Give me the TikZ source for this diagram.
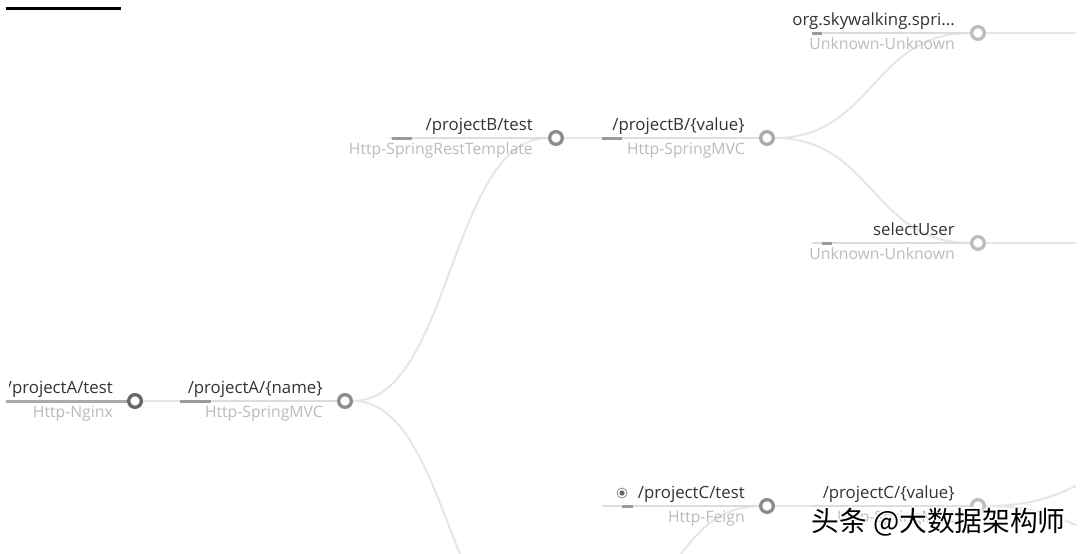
\documentclass[tikz,border=0pt]{standalone}
\usepackage{fontspec}
\setmainfont{Open Sans}
\newfontfamily\cjkfont{Noto Sans CJK SC}
\usetikzlibrary{backgrounds}
\definecolor{titlec}{HTML}{333333}
\definecolor{subc}{HTML}{BBBBBB}
\definecolor{linkc}{HTML}{E6E6E6}
\definecolor{barc}{HTML}{DDDDDD}
\definecolor{darkc}{HTML}{9A9A9A}
\definecolor{ringA}{HTML}{666666}
\definecolor{ringB}{HTML}{8C8C8C}
\definecolor{ringC}{HTML}{ABABAB}
\definecolor{ringD}{HTML}{BDBDBD}
\begin{document}
\begin{tikzpicture}[x=0.75pt,y=-0.75pt,
  ring/.style={circle,draw=#1,fill=white,line width=2.5pt,minimum size=9.5pt,inner sep=0pt},
  ttl/.style={anchor=base east,inner sep=0pt,text=titlec,font=\fontsize{12.6}{14}\selectfont},
  sub/.style={anchor=base east,inner sep=0pt,text=subc,font=\fontsize{11.8}{14}\selectfont},
  link/.style={draw=linkc,line width=1.5pt},
  barlight/.style={draw=barc,line width=1.5pt},
  bardark/.style={draw=darkc,line width=2.25pt},
  wm/.style={font=\cjkfont\fontsize{20.8}{24}\selectfont,inner sep=0pt}]
\useasboundingbox (0,0) rectangle (1080,553);
\clip (9,0) rectangle (1076,553);

% span circles
\node[ring=ringA] (A1) at (135,401) {};
\node[ring=ringB] (A2) at (345,401) {};
\node[ring=ringB] (B1) at (556,138) {};
\node[ring=ringC] (B2) at (767,138) {};
\node[ring=ringD] (C1) at (978,33) {};
\node[ring=ringD] (C2) at (978,243) {};
\node[ring=ringB] (D1) at (767,506) {};
\node[ring=ringD] (D2) at (978,506) {};
\coordinate (X) at (556,664);
\coordinate (C1r) at (1189,33);
\coordinate (C2r) at (1189,243);
\coordinate (E1) at (1189,458);
\coordinate (E2) at (1189,552);

% titles
\node[ttl] (A1t) at (113,393) {/projectA/test};
\node[sub] (A1s) at (113,417) {Http-Nginx};
\node[ttl] (A2t) at (323,393) {/projectA/\{name\}};
\node[sub] (A2s) at (323,417) {Http-SpringMVC};
\node[ttl] (B1t) at (533,130) {/projectB/test};
\node[sub] (B1s) at (533,154) {Http-SpringRestTemplate};
\node[ttl] (B2t) at (745,130) {/projectB/\{value\}};
\node[sub] (B2s) at (745,154) {Http-SpringMVC};
\node[ttl] (C1t) at (955,25) {org.skywalking.spri...};
\node[sub] (C1s) at (955,49) {Unknown-Unknown};
\node[ttl] (C2t) at (955,235) {selectUser};
\node[sub] (C2s) at (955,259) {Unknown-Unknown};
\node[ttl] (D1t) at (745,498) {/projectC/test};
\node[sub] (D1s) at (745,522) {Http-Feign};
\node[ttl] (D2t) at (955,498) {/projectC/\{value\}};
\node[sub] (D2s) at (955,522) {Http-SpringMVC};

% radio icon
\node[circle,draw=ringB,line width=0.6pt,minimum size=7.5pt,inner sep=0pt] (rad) at (622,493) {};
\fill[ringA] (rad.center) circle (2pt);

% watermark
\foreach \dx/\dy in {-1.5/0,1.5/0,0/-1.5,0/1.5,-1/-1,1/1,-1/1,1/-1}
  \node[wm,text=white] at (938.5+\dx,522+\dy) {头条 @大数据架构师};
\node[wm,text=black] (wmk) at (938.5,522) {头条 @大数据架构师};

\begin{pgfonlayer}{background}
  \fill[white] (0,0) rectangle (1080,553);
  \clip (0,0) rectangle (1076,553);
  % top-left bar
  \draw[black,line width=2.25pt] (6,8) -- (121,8);
  % links
  \draw[link] (A1) -- (A2);
  \draw[link] (A2) .. controls +(105.5,0) and +(-105.5,0) .. (B1);
  \draw[link] (A2) .. controls +(105.5,0) and +(-105.5,0) .. (X);
  \draw[link] (B1) -- (B2);
  \draw[link] (B2) .. controls +(105.5,0) and +(-105.5,0) .. (C1);
  \draw[link] (B2) .. controls +(105.5,0) and +(-105.5,0) .. (C2);
  \draw[link] (C1) -- (C1r);
  \draw[link] (C2) -- (C2r);
  \draw[link] (X) .. controls +(105.5,0) and +(-105.5,0) .. (D1);
  \draw[link] (D1) -- (D2);
  \draw[link] (D2) .. controls +(105.5,0) and +(-105.5,0) .. (E1);
  \draw[link] (D2) .. controls +(105.5,0) and +(-105.5,0) .. (E2);
  % duration bars
  \draw[bardark,draw=ringC] (6,401) -- (127,401);
  \draw[barlight] (180,401) -- (337,401);
  \draw[bardark] (180,401) -- (211,401);
  \draw[barlight] (390,138) -- (548,138);
  \draw[bardark] (392,138) -- (412,138);
  \draw[barlight] (602,138) -- (759,138);
  \draw[bardark] (602,138) -- (622,138);
  \draw[barlight] (812,33) -- (970,33);
  \draw[bardark] (812,33) -- (822,33);
  \draw[barlight] (812,243) -- (970,243);
  \draw[bardark] (822,243) -- (832,243);
  \draw[barlight] (602,506) -- (759,506);
  \draw[bardark] (622,506) -- (633,506);
  \draw[barlight] (812,506) -- (970,506);
\end{pgfonlayer}
\end{tikzpicture}
\end{document}
